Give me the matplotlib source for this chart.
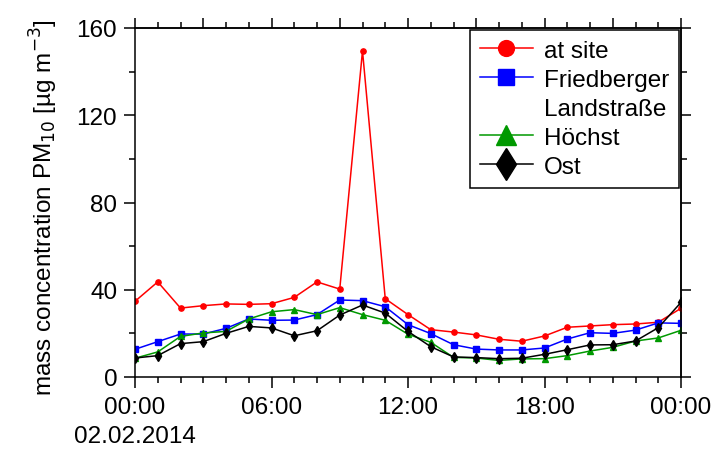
import matplotlib
matplotlib.use("Agg")
import matplotlib.pyplot as plt
from matplotlib.lines import Line2D
from matplotlib.ticker import MultipleLocator

plt.rcParams['font.family'] = ['Liberation Sans', 'DejaVu Sans']

hours = list(range(25))
at_site = [34.7, 43.6, 31.6, 32.7, 33.5, 33.3, 33.6, 36.5, 43.6, 40.3, 149.5, 35.9, 28.6,
           21.7, 20.6, 19.3, 17.3, 16.4, 18.8, 22.8, 23.4, 24.0, 24.3, 25.1, 31.5]
friedberger = [12.7, 16.2, 19.7, 19.7, 22.3, 26.6, 26.0, 26.1, 28.6, 35.3, 35.0, 32.2, 24.0,
               19.9, 14.8, 12.8, 12.4, 12.4, 13.3, 17.4, 20.3, 20.0, 21.5, 24.8, 24.6]
hoechst = [8.6, 11.5, 18.6, 20.2, 20.9, 26.6, 29.9, 30.9, 28.6, 31.8, 28.6, 26.0, 19.6,
           15.9, 9.0, 8.7, 7.6, 8.3, 8.4, 9.8, 11.9, 13.6, 16.5, 17.9, 21.4]
ost = [8.7, 9.8, 15.3, 16.2, 20.0, 23.2, 22.5, 18.9, 21.2, 28.4, 33.0, 29.3, 20.9,
       13.9, 9.2, 8.9, 8.4, 8.6, 10.4, 12.5, 14.7, 14.8, 16.5, 22.6, 34.2]

xtick_pos = [0, 6, 12, 18, 24]
xtick_labels = ["00:00\n02.02.2014", "06:00", "12:00", "18:00", "00:00"]
ytick_pos = [0, 40, 80, 120, 160]

FS = 17.5
LW = 1.1

fig = plt.figure(figsize=(7.16, 4.52), dpi=100)
ax = fig.add_axes([135/716, 1 - 378/452, 546/716, 349/452])

ax.plot(hours, at_site, color='#ff0000', lw=LW, marker='o', ms=3.8, label='at site')
ax.plot(hours, friedberger, color='#0000ff', lw=LW, marker='s', ms=3.8, label='Friedberger')
ax.plot(hours, hoechst, color='#009900', lw=LW, marker='^', ms=4.6, label='Höchst')
ax.plot(hours, ost, color='#000000', lw=LW, marker='d', ms=5.5, label='Ost')

ax.set_xlim(0, 24)
ax.set_ylim(0, 160)
ax.set_xticks(xtick_pos)
ax.set_xticklabels(xtick_labels, fontsize=FS, linespacing=1.4)
ax.xaxis.set_minor_locator(MultipleLocator(1))
ax.set_yticks(ytick_pos)
ax.set_yticklabels([str(v) for v in ytick_pos], fontsize=FS)
ax.yaxis.set_minor_locator(MultipleLocator(20))
ax.tick_params(which='major', direction='out', length=7.8, width=LW, pad=5)
ax.tick_params(which='minor', direction='out', length=4, width=LW)
ax.tick_params(axis='x', which='major', pad=6)
for s in ax.spines.values():
    s.set_linewidth(LW)

top = ax.secondary_xaxis('top')
top.set_xticks(list(range(0, 25, 3)))
top.xaxis.set_minor_locator(MultipleLocator(1))
top.tick_params(which='major', direction='out', length=7.5, width=LW, labeltop=False)
top.tick_params(which='minor', direction='out', length=4, width=LW)
top.spines['top'].set_linewidth(LW)

right = ax.secondary_yaxis('right')
right.set_yticks(ytick_pos)
right.yaxis.set_minor_locator(MultipleLocator(20))
right.tick_params(which='major', direction='out', length=7.5, width=LW, labelright=False)
right.tick_params(which='minor', direction='out', length=4, width=LW)
right.spines['right'].set_linewidth(LW)

ax.set_ylabel('mass concentration PM$_{10}$ [µg m$^{-3}$]', fontsize=FS)
ax.yaxis.set_label_coords(-0.137, 0.487)

handles, labels = ax.get_legend_handles_labels()
dummy = Line2D([], [], linestyle='none')
handles = handles[:2] + [dummy] + handles[2:]
labels = labels[:2] + ['Landstraße'] + labels[2:]
leg = ax.legend(handles, labels, loc='upper right', bbox_to_anchor=(544/546, 347/349),
                borderaxespad=0, fontsize=FS, markerscale=3, handlelength=2.2,
                handletextpad=0.45, labelspacing=0.29, frameon=True, fancybox=False,
                framealpha=1, edgecolor='black', borderpad=0.4)
leg.get_frame().set_linewidth(LW)

fig.savefig('out.png', dpi=100)
